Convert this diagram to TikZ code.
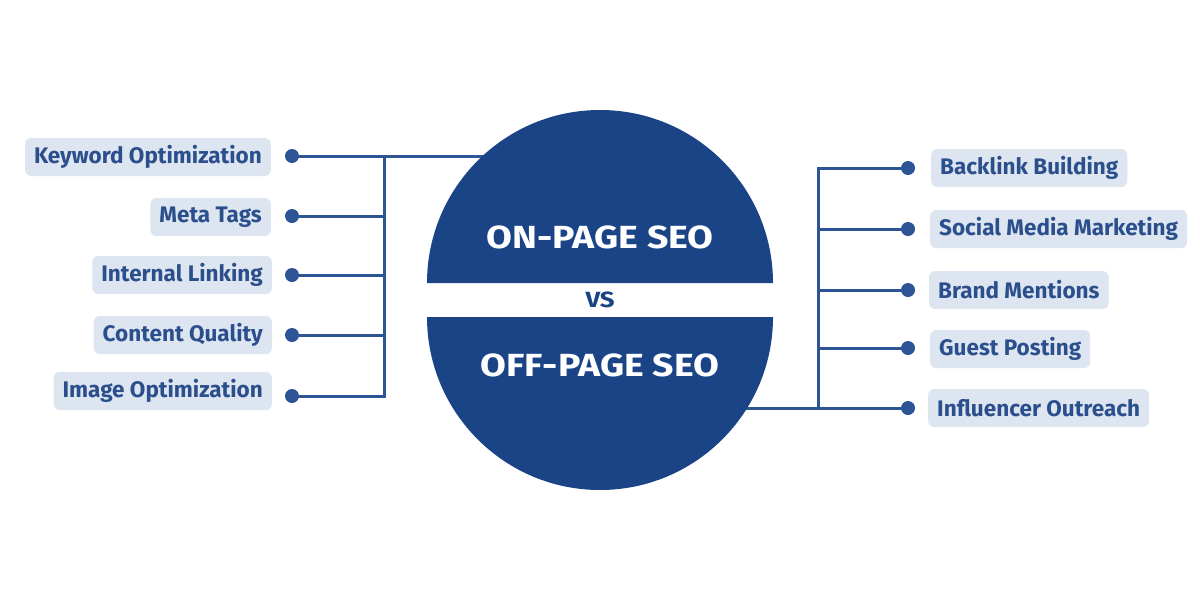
\documentclass[tikz,border=0pt]{standalone}
\usepackage{fontspec}
\setmainfont{Fira Sans}
\newfontfamily\titlefont{Fira Sans}[FakeStretch=1.17]
\definecolor{circblue}{HTML}{1A4486}
\definecolor{lineblue}{HTML}{2D5596}
\definecolor{labfill}{HTML}{DDE5F0}
\definecolor{labtext}{HTML}{2B4F8C}
\begin{document}
\begin{tikzpicture}[x=1pt,y=-1pt,
  conn/.style={draw=lineblue,line width=3pt},
  dotnode/.style={circle,fill=lineblue,minimum size=14pt,inner sep=0pt},
  lab/.style={fill=labfill,rounded corners=6pt,minimum height=38pt,inner xsep=9pt,inner ysep=0pt,text=labtext,font=\fontsize{22.5}{26}\selectfont\bfseries},
  lablft/.style={lab,anchor=east},
  labrgt/.style={lab,anchor=west},
  title/.style={text=white,font=\titlefont\fontsize{32}{38}\selectfont\bfseries}]
\useasboundingbox (0,0) rectangle (1200,600);
\fill[white] (0,0) rectangle (1200,600);
% left side
\coordinate (lb1) at (384,156);
\coordinate (lb2) at (384,216);
\coordinate (lb3) at (384,275);
\coordinate (lb4) at (384,335);
\coordinate (lb5) at (384,396);
\coordinate (lc) at (490,156);
\node[dotnode] (ld1) at (292,156) {};
\node[dotnode] (ld2) at (292,216) {};
\node[dotnode] (ld3) at (292,275) {};
\node[dotnode] (ld4) at (292,335) {};
\node[dotnode] (ld5) at (292,396) {};
\node[lablft] (k1) at (271,157) {Keyword Optimization};
\node[lablft] (k2) at (271,217) {Meta Tags};
\node[lablft] (k3) at (272,275) {Internal Linking};
\node[lablft] (k4) at (272,335) {Content Quality};
\node[lablft] (k5) at (272,391) {Image Optimization};
\draw[conn] (ld1.center) -- (lc);
\draw[conn] (ld2.center) -- (lb2);
\draw[conn] (ld3.center) -- (lb3);
\draw[conn] (ld4.center) -- (lb4);
\draw[conn] (ld5.center) -- (lb5);
\draw[conn,line cap=rect] (lb1) -- (lb5);
% right side
\coordinate (rb1) at (818,168);
\coordinate (rb2) at (818,229);
\coordinate (rb3) at (818,290);
\coordinate (rb4) at (818,348);
\coordinate (rb5) at (818,408);
\coordinate (rc) at (740,408);
\node[dotnode] (rd1) at (908,168) {};
\node[dotnode] (rd2) at (908,229) {};
\node[dotnode] (rd3) at (908,290) {};
\node[dotnode] (rd4) at (908,348) {};
\node[dotnode] (rd5) at (908,408) {};
\node[labrgt] (o1) at (931,168) {Backlink Building};
\node[labrgt] (o2) at (930,229) {Social Media Marketing};
\node[labrgt] (o3) at (929,290) {Brand Mentions};
\node[labrgt] (o4) at (930,349) {Guest Posting};
\node[labrgt] (o5) at (928,408) {Influencer Outreach};
\draw[conn] (rd1.center) -- (rb1);
\draw[conn] (rd2.center) -- (rb2);
\draw[conn] (rd3.center) -- (rb3);
\draw[conn] (rd4.center) -- (rb4);
\draw[conn] (rd5.center) -- (rc);
\draw[conn,line cap=rect] (rb1) -- (rb5);
% circle halves
\fill[circblue] (427,283) arc[start angle=180,end angle=360,radius=173] -- cycle;
\fill[circblue] (427,317) arc[start angle=180,end angle=0,radius=173] -- cycle;
\node[title] (on) at (600,237) {ON-PAGE SEO};
\node[title] (off) at (600,365) {OFF-PAGE SEO};
\node[text=circblue,font=\titlefont\fontsize{22}{26}\selectfont\bfseries] (vs) at (600,300) {VS};
\end{tikzpicture}
\end{document}
